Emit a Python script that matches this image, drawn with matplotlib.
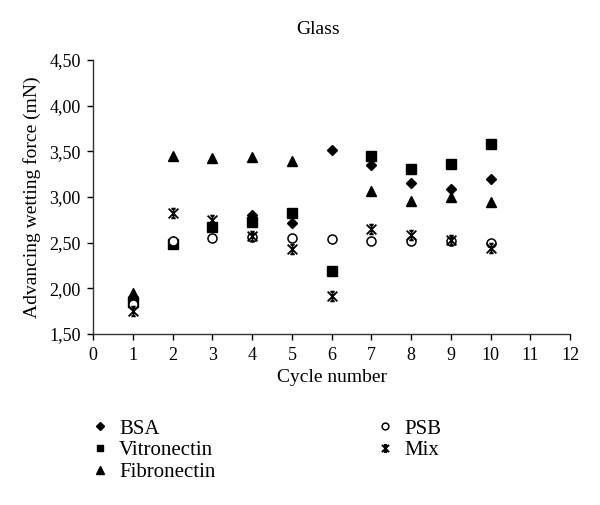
import numpy as np
import matplotlib
matplotlib.use('Agg')
import matplotlib.pyplot as plt
from matplotlib.path import Path

plt.rcParams['font.family'] = ['Liberation Serif', 'DejaVu Serif']

cycles = [1, 2, 3, 4, 5, 6, 7, 8, 9, 10]
bsa = [1.90, 2.52, 2.68, 2.80, 2.71, 3.51, 3.35, 3.15, 3.09, 3.20]
vitronectin = [1.85, 2.49, 2.67, 2.73, 2.83, 2.19, 3.45, 3.31, 3.36, 3.58]
fibronectin = [1.95, 3.45, 3.43, 3.44, 3.39, np.nan, 3.07, 2.96, 3.00, 2.94]
psb = [1.83, 2.52, 2.55, 2.56, 2.55, 2.54, 2.52, 2.52, 2.52, 2.50]
mix = [1.75, 2.82, 2.75, 2.57, 2.43, 1.92, 2.65, 2.58, 2.53, 2.44]

y_ticks = [1.5, 2.0, 2.5, 3.0, 3.5, 4.0, 4.5]
y_ticklabels = ['1,50', '2,00', '2,50', '3,00', '3,50', '4,00', '4,50']
x_ticks = list(range(0, 13))

# Excel style "star" marker: an X with a capped vertical bar
star = Path([(-1, -1), (1, 1), (-1, 1), (1, -1), (0, -1), (0, 1),
             (-0.45, 1), (0.45, 1), (-0.45, -1), (0.45, -1)],
            [Path.MOVETO, Path.LINETO] * 5)

fig = plt.figure(figsize=(6.0, 5.05), dpi=100)
ax = fig.add_axes([93.3 / 600, 1 - 334 / 505, (570 - 93.3) / 600, (334 - 60) / 505])

h1, = ax.plot(cycles, bsa, linestyle='none', marker='D', markersize=5,
              color='black', label='BSA')
h2, = ax.plot(cycles, vitronectin, linestyle='none', marker='s', markersize=6.5,
              color='black', label='Vitronectin')
h3, = ax.plot(cycles, fibronectin, linestyle='none', marker='^', markersize=7,
              color='black', label='Fibronectin')
h4, = ax.plot(cycles, psb, linestyle='none', marker='o', markersize=6.5,
              markerfacecolor='white', markeredgecolor='black', markeredgewidth=1.1,
              label='PSB')
h5, = ax.plot(cycles, mix, linestyle='none', marker=star, markersize=7,
              markerfacecolor='none', markeredgecolor='black', markeredgewidth=1.3,
              label='Mix')

ax.set_xlim(0, 12)
ax.set_ylim(1.5, 4.5)
ax.set_xticks(x_ticks)
ax.set_yticks(y_ticks)
ax.set_yticklabels(y_ticklabels)
ax.spines['top'].set_visible(False)
ax.spines['right'].set_visible(False)
for s in ['left', 'bottom']:
    ax.spines[s].set_linewidth(1.0)
    ax.spines[s].set_color('#333333')
ax.tick_params(direction='out', length=4, width=1.0, colors='black',
               labelsize=13, pad=5)

ax.set_xlabel('Cycle number', fontsize=14, labelpad=4)
ax.set_ylabel('Advancing wetting force (mN)', fontsize=14, labelpad=6)
fig.text(318 / 600, 1 - 30 / 505, 'Glass', fontsize=14, ha='center', va='center')

leg_kw = dict(frameon=False, fontsize=15, handlelength=0.8, handletextpad=0.5,
              labelspacing=0.1, borderaxespad=0, borderpad=0, markerscale=0.75)
fig.legend(handles=[h1, h2, h3], loc='upper left',
           bbox_to_anchor=(92 / 600, 1 - 419 / 505), **leg_kw)
fig.legend(handles=[h4, h5], loc='upper left',
           bbox_to_anchor=(377 / 600, 1 - 419 / 505), **leg_kw)

fig.savefig('out.png', dpi=100)
